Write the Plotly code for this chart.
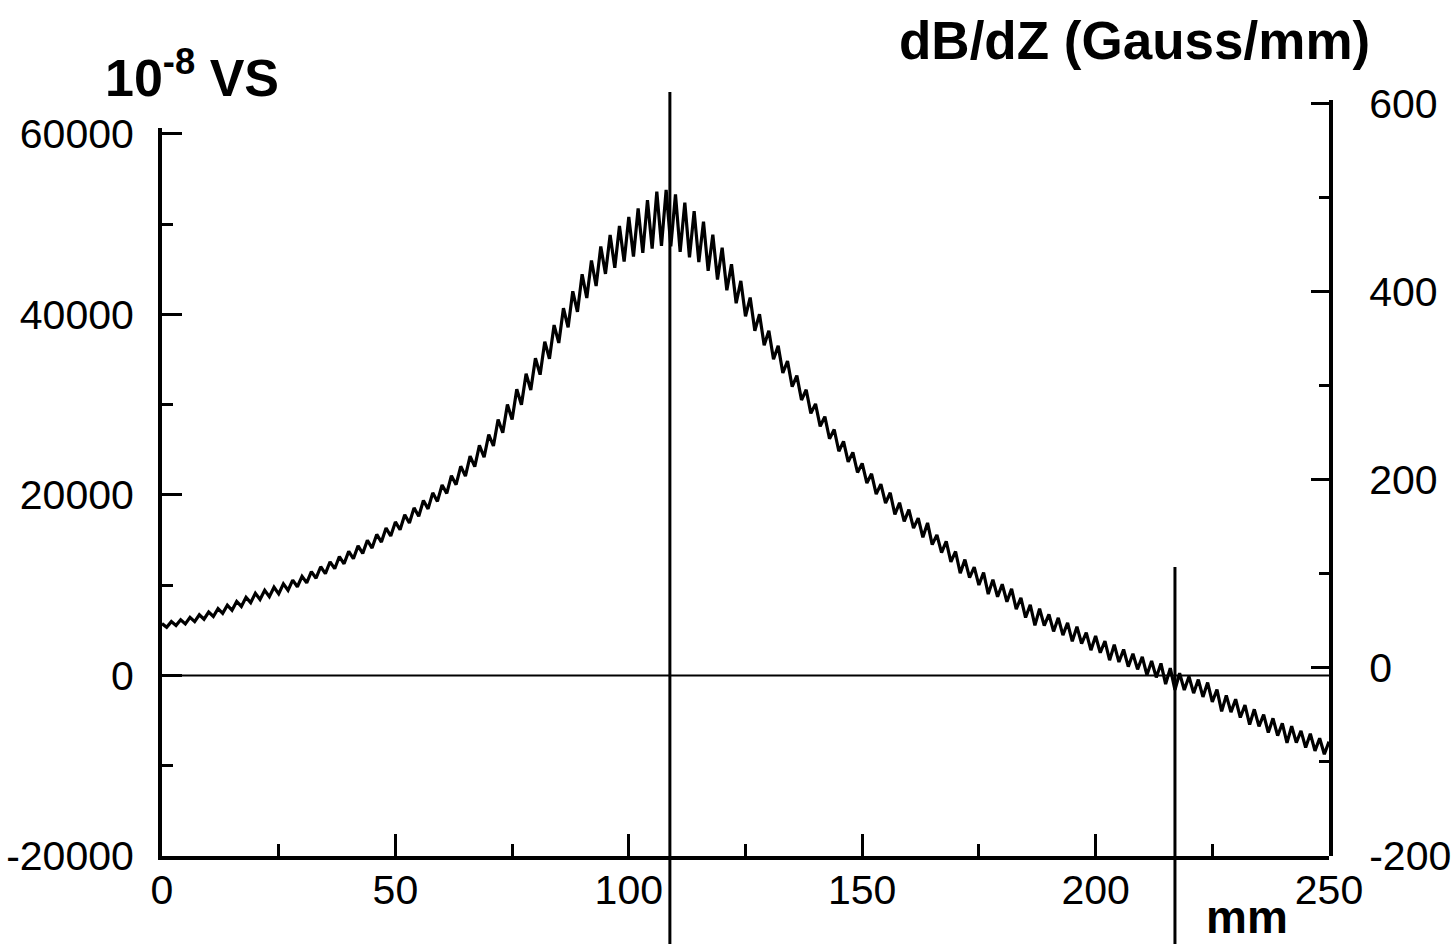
import plotly.graph_objects as go

# ---------------- data ----------------
# position along the axis, mm (1 mm sampling)
position_mm = list(range(0, 251))

# integrated signal, 10^-8 Vs (ripple peaks / troughs alternate)
flux_values = [
    5750, 5340, 5970, 5530, 6180, 5710, 6440, 5970, 6730, 6240,
    7030, 6540, 7410, 6880, 7790, 7225, 8200, 7650, 8660, 8070,
    9120, 8430, 9450, 8740, 9780, 9050, 10160, 9440, 10570, 9830,
    10980, 10270, 11510, 10780, 12050, 11285, 12600, 11830, 13180, 12380,
    13750, 12940, 14360, 13530, 14980, 14120, 15630, 14780, 16330, 15450,
    17020, 16150, 17800, 16900, 18570, 17640, 19390, 18460, 20240, 19290,
    21100, 20180, 22140, 21140, 23180, 22100, 24300, 23140, 25500, 24180,
    26700, 25430, 28360, 26890, 30020, 28350, 31710, 29990, 33430, 31630,
    35150, 33330, 36990, 35090, 38830, 36850, 40690, 38570, 42570, 40290,
    44450, 41820, 45990, 43160, 47530, 44500, 48800, 45180, 49800, 45860,
    50800, 46410, 51740, 46820, 52660, 47300, 53600, 47600, 53800, 47550,
    53300, 46950, 52400, 46320, 51460, 45800, 50280, 44840, 48840, 43880,
    47400, 42680, 45560, 41240, 43720, 39800, 41880, 38200, 40040, 36600,
    38200, 35040, 36520, 33520, 34840, 32000, 33220, 30520, 31660, 29040,
    30100, 27610, 28680, 26230, 27260, 24850, 25940, 23670, 24720, 22490,
    23500, 21320, 22350, 20100, 21210, 19090, 20250, 17840, 19140, 17080,
    18380, 16330, 17430, 15310, 16900, 14500, 15580, 13610, 14870, 12590,
    13740, 11330, 12840, 10850, 12010, 10020, 11410, 9020, 10620, 8720,
    10110, 8170, 9600, 7350, 8600, 6420, 7840, 5550, 7390, 5520,
    6770, 4880, 6390, 4470, 5840, 3780, 5410, 3540, 4750, 2810,
    4370, 2520, 3820, 1690, 3410, 1490, 2880, 980, 2410, 680,
    2070, 50, 1600, -210, 1340, -960, 820, -1600, 250, -1610,
    -110, -1960, -450, -2370, -790, -2920, -1560, -3980, -2200, -4060,
    -2630, -4660, -3290, -5430, -3750, -5640, -4340, -6330, -4750, -6670,
    -5300, -7460, -5630, -7440, -6130, -7980, -6450, -8350, -6960, -8720,
    -7330,
]

# marker lines (mm)
marker_positions = [108.8, 217.0]

# axis ticks
x_ticks = [0, 50, 100, 150, 200, 250]
x_minor = [25, 75, 125, 175, 225]
left_ticks = [-20000, 0, 20000, 40000, 60000]
left_labels = ["-20000", "0", "20000", "40000", "60000"]
left_minor = [-10000, 10000, 30000, 50000]
right_ticks = [-200, 0, 200, 400, 600]
right_labels = ["-200", "0", "200", "400", "600"]
right_minor = [-100, 100, 300, 500]

# ---------------- layout geometry ----------------
W, H = 1455, 944
L, R, T, B = 162, 126, 100, 88
PW, PH = W - L - R, H - T - B


def px(xp):
    return (xp - L) / PW


def py(yp):
    return (H - B - yp) / PH


FONT = "Liberation Sans, Arial, Helvetica, sans-serif"

fig = go.Figure()
fig.add_trace(go.Scatter(
    x=position_mm, y=flux_values, mode="lines",
    line=dict(color="black", width=3.2),
    showlegend=False, hoverinfo="skip", yaxis="y",
))
# empty trace so the right axis is drawn
fig.add_trace(go.Scatter(x=[None], y=[None], yaxis="y2", showlegend=False,
                         mode="lines", hoverinfo="skip"))

# zero line
fig.add_shape(type="line", xref="x", yref="y", x0=0, x1=250, y0=0, y1=0,
              line=dict(color="black", width=2))
# vertical marker lines
fig.add_shape(type="line", xref="x", yref="paper",
              x0=marker_positions[0], x1=marker_positions[0],
              y0=py(92), y1=py(944), line=dict(color="black", width=3))
fig.add_shape(type="line", xref="x", yref="paper",
              x0=marker_positions[1], x1=marker_positions[1],
              y0=py(567), y1=py(944), line=dict(color="black", width=3))

tick_font = dict(family=FONT, size=41, color="black")

fig.update_layout(
    template="none",
    width=W, height=H,
    margin=dict(l=L, r=R, t=T, b=B, pad=0),
    paper_bgcolor="white", plot_bgcolor="rgba(0,0,0,0)",
    xaxis=dict(
        range=[0, 250], domain=[0, 1], anchor="y",
        showline=True, linecolor="black", linewidth=4,
        showgrid=False, zeroline=False, automargin=False,
        ticks="inside", ticklen=22, tickwidth=3, tickcolor="black",
        tickmode="array", tickvals=x_ticks, ticktext=[str(v) for v in x_ticks],
        tickfont=tick_font, ticklabelstandoff=-5,
        minor=dict(ticks="inside", ticklen=12, tickwidth=3, tickcolor="black",
                   tickmode="array", tickvals=x_minor, showgrid=False),
    ),
    yaxis=dict(
        range=[-20000, 60665], domain=[0, 0.963], anchor="x", side="left",
        showline=True, linecolor="black", linewidth=4,
        showgrid=False, zeroline=False, automargin=False,
        ticks="inside", ticklen=20, tickwidth=3, tickcolor="black",
        tickmode="array", tickvals=left_ticks, ticktext=left_labels,
        tickfont=tick_font, ticklabelstandoff=16,
        minor=dict(ticks="inside", ticklen=11, tickwidth=3, tickcolor="black",
                   tickmode="array", tickvals=left_minor, showgrid=False),
    ),
    yaxis2=dict(
        range=[-200, 604], domain=[0, 1], anchor="x", side="right",
        showline=True, linecolor="black", linewidth=4,
        showgrid=False, zeroline=False, automargin=False,
        ticks="inside", ticklen=18, tickwidth=3, tickcolor="black",
        tickmode="array", tickvals=right_ticks, ticktext=right_labels,
        tickfont=tick_font, ticklabelstandoff=28,
        minor=dict(ticks="inside", ticklen=10, tickwidth=3, tickcolor="black",
                   tickmode="array", tickvals=right_minor, showgrid=False),
    ),
    annotations=[
        dict(text="<b>10<sup>-8</sup> VS</b>", xref="paper", yref="paper",
             x=px(103), y=py(74), xanchor="left", yanchor="middle",
             showarrow=False, font=dict(family=FONT, size=52, color="black")),
        dict(text="<b>dB/dZ (Gauss/mm)</b>", xref="paper", yref="paper",
             x=px(897), y=py(40), xanchor="left", yanchor="middle",
             showarrow=False, font=dict(family=FONT, size=53, color="black")),
        dict(text="<b>mm</b>", xref="paper", yref="paper",
             x=px(1247), y=py(917), xanchor="center", yanchor="middle",
             showarrow=False, font=dict(family=FONT, size=46, color="black")),
    ],
)

fig.write_html("out.html")
